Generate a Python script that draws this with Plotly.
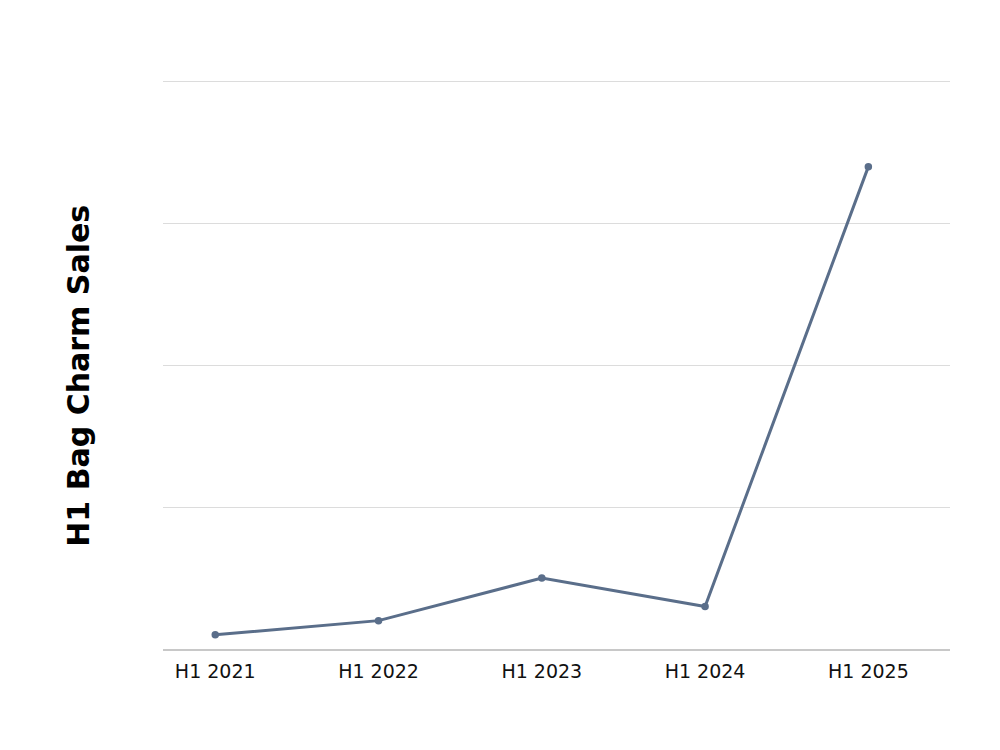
import plotly.graph_objects as go

# H1 sales of bag charms (y axis has no tick labels in the source)
periods = ["H1 2021", "H1 2022", "H1 2023", "H1 2024", "H1 2025"]
sales = [5, 10, 25, 15, 170]

fig = go.Figure(
    go.Scatter(
        x=periods,
        y=sales,
        mode="lines+markers",
        line=dict(color="#5a6e8a", width=3),
        marker=dict(color="#5a6e8a", size=7.5),
        showlegend=False,
    )
)

fig.update_layout(
    width=1000,
    height=750,
    margin=dict(l=155, r=58, t=65, b=109),
    paper_bgcolor="white",
    plot_bgcolor="white",
    font=dict(family="DejaVu Sans", color="#111111"),
)

fig.update_xaxes(
    range=[-0.32, 4.5],
    showline=True,
    linecolor="#c8c8c8",
    linewidth=1.5,
    showgrid=False,
    ticks="",
    ticklabelstandoff=4,
    tickfont=dict(size=19, color="#111111"),
)
fig.update_yaxes(
    range=[0, 203],
    tickvals=[0, 50, 100, 150, 200],
    showticklabels=False,
    showgrid=True,
    gridcolor="#dcdcdc",
    gridwidth=1,
    zeroline=False,
)

# y title sits a little below the plot's middle, so place it by hand
fig.add_annotation(
    text="<b>H1 Bag Charm Sales</b>",
    xref="paper", yref="paper",
    x=-0.107, y=0.474,
    xanchor="center", yanchor="middle",
    textangle=-90,
    showarrow=False,
    font=dict(size=30, color="#000000"),
)

fig.write_html("out.html")
